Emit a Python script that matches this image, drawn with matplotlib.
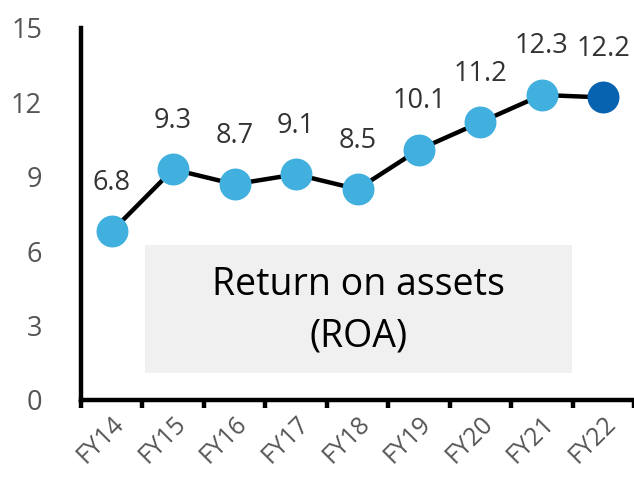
import matplotlib
matplotlib.use("Agg")
import matplotlib.pyplot as plt
from matplotlib.patches import Rectangle
import numpy as np

plt.rcParams['font.family'] = ['Open Sans', 'DejaVu Sans']

years = ["FY14", "FY15", "FY16", "FY17", "FY18", "FY19", "FY20", "FY21", "FY22"]
roa = [6.8, 9.3, 8.7, 9.1, 8.5, 10.1, 11.2, 12.3, 12.2]
y_ticks = [0, 3, 6, 9, 12, 15]

light_blue = "#42B0DE"
dark_blue = "#0763B0"

fig = plt.figure(figsize=(6.34, 4.82), dpi=100)
ax = fig.add_axes([81 / 634, 1 - 400 / 482, 553 / 634, 372 / 482])

x = np.arange(len(years))
ax.plot(x, roa, color="black", lw=3.2, zorder=2, solid_capstyle="round")
colors = [light_blue] * (len(years) - 1) + [dark_blue]
for xi, yi, c in zip(x, roa, colors):
    ax.plot(xi, yi, "o", ms=23, color=c, markeredgewidth=0, zorder=3)
    ax.annotate(f"{yi:.1f}", (xi, yi), xytext=(0, 30), textcoords="offset points",
                ha="center", va="baseline", fontsize=19.5, color="#333333")

# Caption box
ax.add_patch(Rectangle((0.54, 1.1), 6.95, 5.15, facecolor="#F0F0F0",
                       edgecolor="none", zorder=1))
ax.text(4.01, 3.6, "Return on assets\n(ROA)", ha="center", va="center",
        fontsize=27, color="black", linespacing=1.45, zorder=2)

ax.set_xlim(-0.5, 8.5)
ax.set_ylim(0, 15)
ax.set_yticks(y_ticks)
ax.set_yticklabels([str(v) for v in y_ticks])
ax.tick_params(axis="y", length=0, pad=28, labelsize=19.5, labelcolor="#555555")

ax.set_xticks(x)
ax.set_xticklabels(years, rotation=45, ha="right", rotation_mode="anchor")
ax.tick_params(axis="x", which="major", length=0, pad=8, labelsize=18,
               labelcolor="#555555")
ax.set_xticks(np.arange(-0.5, 9.0, 1.0), minor=True)
ax.tick_params(axis="x", which="minor", length=6, width=3.2, color="black")

for side in ["top", "right"]:
    ax.spines[side].set_visible(False)
for side in ["left", "bottom"]:
    ax.spines[side].set_linewidth(3.2)
    ax.spines[side].set_color("black")

fig.savefig("out.png", dpi=100)
